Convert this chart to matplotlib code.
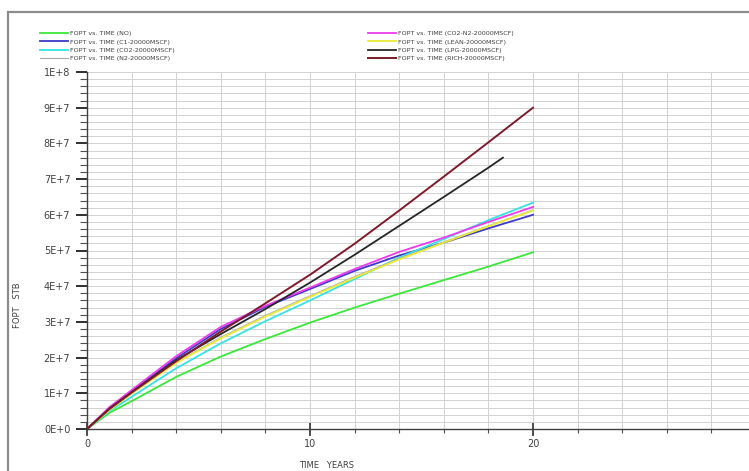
import matplotlib
matplotlib.use("Agg")
import matplotlib.pyplot as plt
from matplotlib.ticker import MultipleLocator, FuncFormatter
from matplotlib.patches import Rectangle

# time in years, FOPT in units of 1E+6 STB
t = [0, 1, 2, 4, 6, 8, 10, 12, 14, 16, 18, 20]
t_lpg = [0, 1, 2, 4, 6, 8, 10, 12, 14, 16, 18, 18.65]

fopt_no = [0, 4.5, 7.8, 14.6, 20.3, 25.2, 29.8, 34.0, 37.9, 41.7, 45.5, 49.5]
fopt_c1 = [0, 5.6, 10.5, 19.8, 28.0, 34.2, 39.2, 44.3, 48.6, 52.2, 56.2, 60.0]
fopt_co2 = [0, 5.0, 9.0, 17.0, 24.0, 30.2, 36.0, 42.0, 48.0, 53.2, 58.5, 63.4]
fopt_n2 = [0, 5.4, 10.0, 18.7, 25.7, 31.8, 37.3, 42.7, 47.8, 52.4, 56.9, 61.4]
fopt_co2n2 = [0, 6.1, 10.9, 20.4, 28.6, 34.5, 39.6, 44.8, 49.6, 53.6, 58.0, 62.2]
fopt_lean = [0, 5.3, 9.9, 18.5, 25.4, 31.5, 37.0, 42.4, 47.5, 52.2, 56.8, 61.2]
fopt_lpg = [0, 5.7, 10.3, 19.3, 26.6, 33.6, 41.0, 48.8, 56.9, 65.0, 73.2, 76.0]
fopt_rich = [0, 5.6, 10.2, 19.0, 27.3, 35.2, 43.2, 51.9, 61.2, 70.7, 80.3, 90.0]

fig = plt.figure(figsize=(7.49, 4.71), dpi=100)
fig.patches.append(Rectangle((8 / 749, -0.1), 1.2, 1 - 12 / 471 + 0.1,
                             transform=fig.transFigure, fill=False,
                             edgecolor="#8c8c8c", lw=1.6))

ax = fig.add_axes([87 / 749, 1 - 429 / 471, 669 / 749, 357 / 471])

lines_left = [
    (t, fopt_no, "#3ae83a", 1.3, "FOPT vs. TIME (NO)"),
    (t, fopt_c1, "#3b3bc8", 1.3, "FOPT vs. TIME (C1-20000MSCF)"),
    (t, fopt_co2, "#35e3e3", 1.3, "FOPT vs. TIME (CO2-20000MSCF)"),
    (t, fopt_n2, "#a8a8a8", 0.8, "FOPT vs. TIME (N2-20000MSCF)"),
]
lines_right = [
    (t, fopt_co2n2, "#ec3aec", 1.3, "FOPT vs. TIME (CO2-N2-20000MSCF)"),
    (t, fopt_lean, "#eaea35", 1.3, "FOPT vs. TIME (LEAN-20000MSCF)"),
    (t_lpg, fopt_lpg, "#262626", 1.3, "FOPT vs. TIME (LPG-20000MSCF)"),
    (t, fopt_rich, "#7e1a2a", 1.4, "FOPT vs. TIME (RICH-20000MSCF)"),
]

h_left = []
h_right = []
for x, y, c, lw, lab in lines_left:
    h, = ax.plot(x, [v * 1e6 for v in y], color=c, lw=lw, label=lab, zorder=3)
    h_left.append(h)
for x, y, c, lw, lab in lines_right:
    h, = ax.plot(x, [v * 1e6 for v in y], color=c, lw=lw, label=lab, zorder=3)
    h_right.append(h)

ax.set_xlim(0, 30)
ax.set_ylim(0, 1e8)
ax.xaxis.set_major_locator(MultipleLocator(10))
ax.xaxis.set_minor_locator(MultipleLocator(2))
ax.yaxis.set_major_locator(MultipleLocator(1e7))
ax.yaxis.set_minor_locator(MultipleLocator(2e6))


def sci(v, pos):
    if v == 0:
        return "0E+0"
    e = len(str(int(round(v)))) - 1
    return "{}E+{}".format(int(round(v / 10 ** e)), e)


ax.yaxis.set_major_formatter(FuncFormatter(sci))

ax.grid(which="both", axis="both", color="#d2d2d2", lw=0.7, zorder=0)
ax.set_axisbelow(True)

for s in ["top", "right"]:
    ax.spines[s].set_visible(False)
for s in ["left", "bottom"]:
    ax.spines[s].set_color("#404040")
    ax.spines[s].set_linewidth(1.0)

ax.tick_params(axis="y", which="major", direction="out", length=8, width=1.4,
               color="#303030", labelsize=7, labelcolor="#404040", pad=4)
ax.tick_params(axis="y", which="minor", direction="out", length=5, width=0.8,
               color="#505050")
ax.tick_params(axis="x", which="major", direction="inout", length=10, width=1.2,
               color="#303030", labelsize=7, labelcolor="#404040", pad=2)
ax.tick_params(axis="x", which="minor", direction="out", length=3, width=0.8,
               color="#505050")

fig.text(18 / 749, 1 - 305 / 471, "FOPT   STB", rotation=90, ha="center",
         va="center", fontsize=6, color="#404040")
fig.text(327 / 749, 1 - 465 / 471, "TIME   YEARS", ha="center", va="center",
         fontsize=6, color="#404040")

leg_kw = dict(loc="upper left", frameon=False, fontsize=4.6, handlelength=4.4,
              handletextpad=0.3, labelspacing=0.42, borderaxespad=0,
              borderpad=0, labelcolor="#404040")
leg1 = fig.legend(handles=h_left, bbox_to_anchor=(40 / 749, 1 - 31 / 471), **leg_kw)
leg2 = fig.legend(handles=h_right, bbox_to_anchor=(368 / 749, 1 - 31 / 471), **leg_kw)

fig.savefig("out.png", dpi=100)
